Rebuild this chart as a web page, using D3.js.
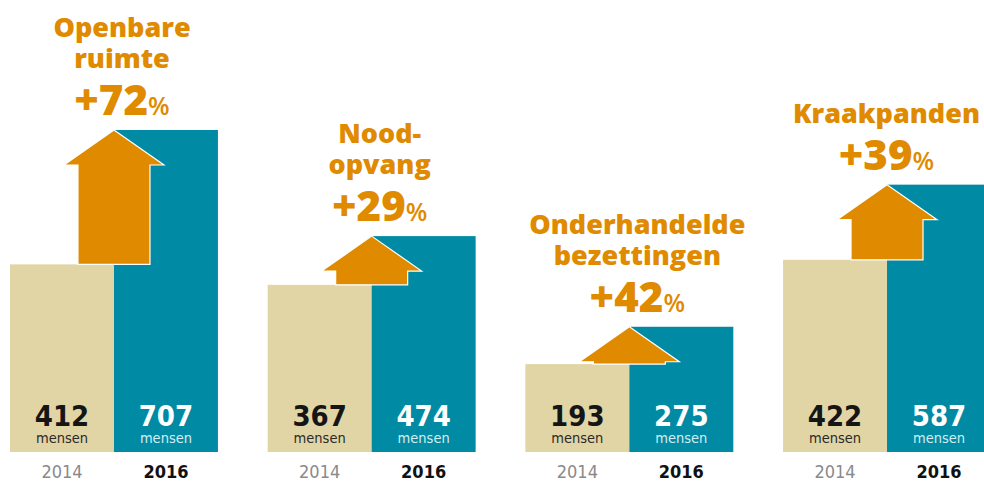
<!DOCTYPE html>
<html>
<head>
<meta charset="utf-8">
<script src="https://cdn.jsdelivr.net/npm/d3@7"></script>
<style>
  body { margin: 0; background: #fff; }
  svg { display: block; }
</style>
</head>
<body>
<div id="chart"></div>
<script>
const categories = ['openbaar', 'noodopvang', 'onderhandeld', 'kraak'];
const titles = [['Openbare', 'ruimte'], ['Nood-', 'opvang'], ['Onderhandelde', 'bezettingen'], ['Kraakpanden']];
const years = ['2014', '2016'];
const values2014 = [412, 367, 193, 422];
const values2016 = [707, 474, 275, 587];
const growth = [72, 29, 42, 39];
const unit = 'mensen';

const beige = '#e2d5a5';
const teal = '#008aa3';
const orange = '#e08a00';
const cond_font = '"DejaVu Sans Condensed", "DejaVu Sans", sans-serif';

const width = 984, height = 481;

const svg = d3.select('#chart').append('svg')
  .attr('width', width)
  .attr('height', height);

const x = d3.scaleBand()
  .domain(categories)
  .range([10, 991])
  .paddingInner(0.193)
  .paddingOuter(0);

const xYear = d3.scaleBand()
  .domain(years)
  .range([0, x.bandwidth()]);

const y = d3.scaleLinear()
  .domain([0, 707])
  .range([452, 130]);

const rows = categories.map((c, i) => ({
  cat: c, i: i, title: titles[i],
  v: [values2014[i], values2016[i]], pct: growth[i]
}));

const groups = svg.selectAll('.grp')
  .data(rows)
  .enter()
  .append('g')
    .attr('class', 'grp')
    .attr('transform', (d) => 'translate(' + x(d.cat) + ',0)');

// bars with value + unit inside, year below
years.forEach((yr, k) => {
  const mid = xYear(yr) + xYear.bandwidth() / 2;

  groups.append('rect')
    .attr('x', xYear(yr))
    .attr('width', xYear.bandwidth())
    .attr('y', (d) => y(d.v[k]))
    .attr('height', (d) => y(0) - y(d.v[k]))
    .attr('fill', k == 0 ? beige : teal);

  const val = groups.append('text')
    .attr('x', mid)
    .attr('y', 426)
    .attr('text-anchor', 'middle')
    .style('font-family', cond_font)
    .style('font-stretch', 'condensed');
  val.append('tspan')
    .attr('x', mid)
    .style('font-weight', 'bold')
    .style('font-size', '29px')
    .attr('fill', k == 0 ? '#151515' : '#ffffff')
    .text((d) => d.v[k]);
  val.append('tspan')
    .attr('x', mid)
    .attr('dy', 17)
    .style('font-weight', 300)
    .style('font-size', '14.5px')
    .attr('fill', k == 0 ? '#2a2a2a' : '#d4eef3')
    .text(unit);

  groups.append('text')
    .attr('x', mid)
    .attr('y', 478)
    .attr('text-anchor', 'middle')
    .style('font-family', cond_font)
    .style('font-stretch', 'condensed')
    .style('font-weight', k == 0 ? 'normal' : 'bold')
    .style('font-size', '18px')
    .attr('fill', k == 0 ? '#8a8a8a' : '#111')
    .text(yr);
});

// arrows: tip on the 2016 top, body down to the 2014 top
const headHalf = 50, shaftHalf = 36, headH = 35;
groups.append('path')
  .attr('d', (d) => {
    const cx = xYear('2016');
    const top = y(d.v[1]);
    const bottom = y(d.v[0]);
    const hb = top + headH;
    return d3.line()([
      [cx, top], [cx + headHalf, hb], [cx + shaftHalf, hb], [cx + shaftHalf, bottom],
      [cx - shaftHalf, bottom], [cx - shaftHalf, hb], [cx - headHalf, hb]
    ]) + 'Z';
  })
  .attr('fill', orange)
  .attr('stroke', '#fff')
  .attr('stroke-width', 1.2)
  .attr('stroke-linejoin', 'miter');

// labels above the arrows
groups.each(function(d) {
  const g = d3.select(this);
  const tipY = y(d.v[1]);
  const pctBase = tipY - 15;
  const lab = g.append('g').attr('class', 'lab');

  lab.append('text')
    .attr('x', 0)
    .attr('y', pctBase)
    .attr('text-anchor', 'middle')
    .attr('fill', orange)
    .style('font-family', '"Open Sans", sans-serif')
    .call((t) => {
      t.append('tspan').style('font-weight', 800).style('font-size', '42px').text('+' + d.pct);
      t.append('tspan').style('font-weight', 600).style('font-size', '25px').text('%');
    });

  const n = d.title.length;
  d.title.forEach((line, j) => {
    lab.append('text')
      .attr('x', 0)
      .attr('y', pctBase - 47 - (n - 1 - j) * 31)
      .attr('text-anchor', 'middle')
      .attr('fill', orange)
      .style('font-family', '"Open Sans", sans-serif')
      .style('font-weight', 800)
      .style('font-size', '27px')
      .text(line);
  });

  // centre a bit right of the bar boundary, but keep inside the picture
  const bb = lab.node().getBBox();
  let cx = xYear('2016') + 8;
  const gx = x(d.cat);
  if (gx + cx + bb.width / 2 > width - 4) cx = width - 4 - gx - bb.width / 2;
  lab.attr('transform', 'translate(' + cx + ',0)');
});
</script>
</body>
</html>
